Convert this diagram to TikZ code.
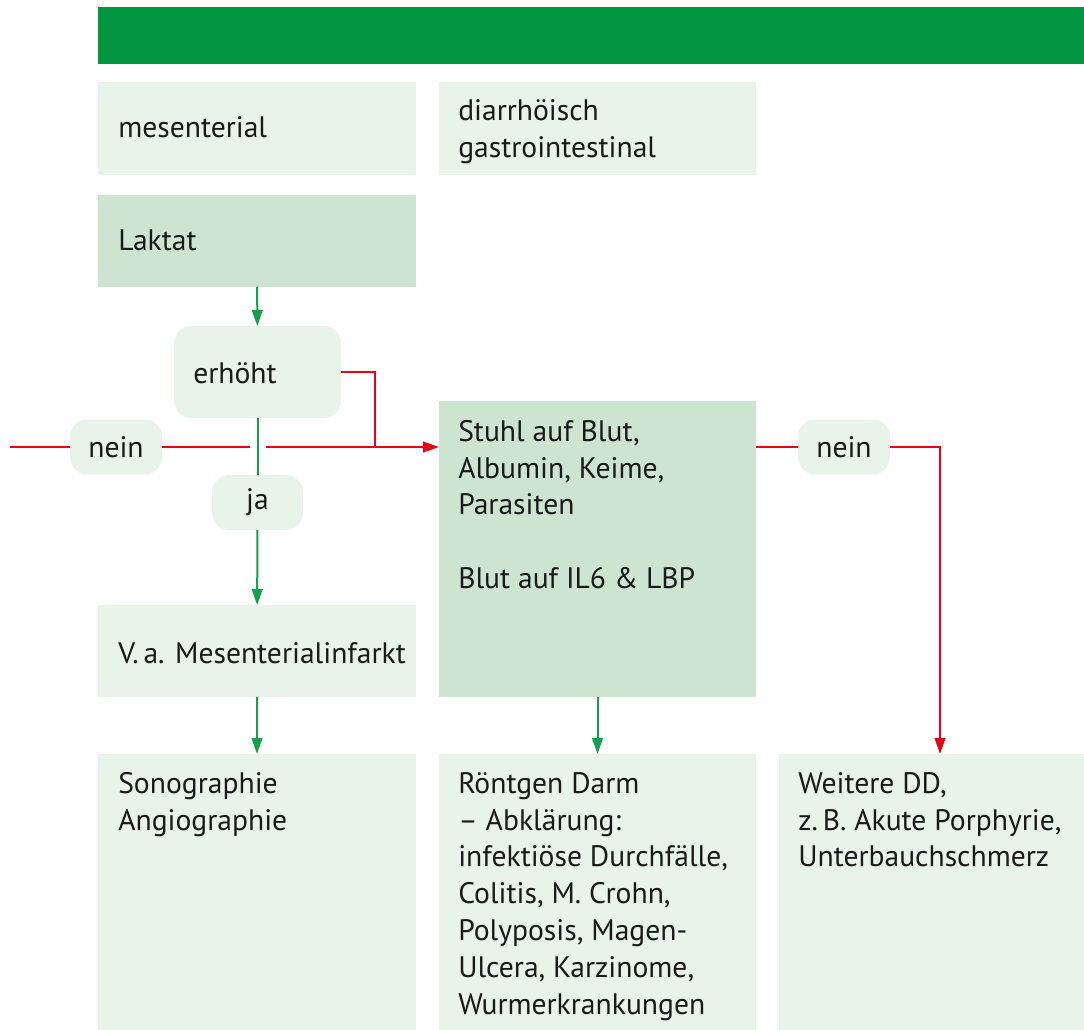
\documentclass[tikz,border=0pt]{standalone}
\usepackage{fontspec}
\setmainfont{PT Sans}
\usetikzlibrary{arrows.meta}
\definecolor{barGreen}{RGB}{0,150,64}
\definecolor{boxLight}{RGB}{232,243,233}
\definecolor{boxDark}{RGB}{205,228,208}
\definecolor{lineGreen}{RGB}{22,158,76}
\definecolor{lineRed}{RGB}{227,6,19}
\definecolor{textDark}{RGB}{25,25,25}
\begin{document}
\begin{tikzpicture}[x=0.75pt,y=-0.75pt,
  sz/.style 2 args={minimum width=#1*0.75pt,minimum height=#2*0.75pt},
  panel/.style={rectangle,inner sep=0pt,outer sep=0pt},
  lightbox/.style={panel,fill=boxLight},
  darkbox/.style={panel,fill=boxDark},
  pill/.style={panel,fill=boxLight,rounded corners=13pt,font=\fontsize{22.2}{27.6}\selectfont,text=textDark},
  txt/.style={inner sep=0pt,align=left,font=\fontsize{22.2}{27.6}\selectfont,text=textDark},
  gline/.style={draw=lineGreen,line width=1.5pt},
  rline/.style={draw=lineRed,line width=1.5pt},
  tip/.style={-{Triangle[length=12pt,width=8pt]}},
]
\path[use as bounding box,fill=white] (0,0) rectangle (1084,1030);

% panels
\node[panel,fill=barGreen,sz={986}{57}] (bar) at (591,35.5) {};
\node[lightbox,sz={318}{93}] (mes) at (257,128.5) {};
\node[lightbox,sz={317}{93}] (diar) at (597.5,128.5) {};
\node[darkbox,sz={318}{92}] (laktat) at (257,241) {};
\node[pill,sz={167}{92}] (erh) at (257.5,372) {};
\node[pill,sz={92}{55}] (neinL) at (116,447) {nein};
\node[pill,sz={91}{55}] (ja) at (257.5,502.5) {ja};
\node[darkbox,sz={317}{296}] (stuhl) at (597.5,549) {};
\node[pill,sz={92}{55}] (neinR) at (844,447) {nein};
\node[lightbox,sz={318}{92}] (va) at (257,651) {};
\node[lightbox,sz={318}{276}] (sono) at (257,892) {};
\node[lightbox,sz={317}{276}] (roent) at (597.5,892) {};
\node[lightbox,sz={305}{276}] (weit) at (931.5,892) {};

% texts
\node[txt,anchor=base west] (tmes) at (118,138) {mesenterial};
\node[txt,anchor=north west] (tdiar) at (458,99) {diarrhöisch\\gastrointestinal};
\node[txt,anchor=base west] (tlak) at (118,251) {Laktat};
\node[txt,anchor=base west] (terh) at (193,383) {erhöht};
\node[txt,anchor=north west] (tstuhl) at (458,420) {Stuhl auf Blut,\\Albumin, Keime,\\Parasiten\\[27.6pt]Blut auf IL6 \& LBP};
\node[txt,anchor=base west] (tva) at (118,663) {V.\,a. Mesenterialinfarkt};
\node[txt,anchor=north west] (tsono) at (118,772) {Sonographie\\Angiographie};
\node[txt,anchor=north west] (troent) at (458,772) {Röntgen Darm\\– Abklärung:\\infektiöse Durchfälle,\\Colitis, M. Crohn,\\Polyposis, Magen-\\Ulcera, Karzinome,\\Wurmerkrankungen};
\node[txt,anchor=north west] (tweit) at (798,772) {Weitere DD,\\z.\,B. Akute Porphyrie,\\Unterbauchschmerz};

% red connectors
\coordinate (lstart) at (10,447);
\coordinate (merge) at (375,447);
\coordinate (wtop) at (940,754);
\draw[rline] (lstart) -- (neinL.west);
\draw[rline,tip] (neinL.east) -- (neinL.east -| stuhl.west);
\draw[rline] (erh.east) -| (merge);
\draw[rline] (stuhl.east |- neinR) -- (neinR.west);
\draw[rline,tip] (neinR.east) -| (wtop);

% green connectors
\draw[gline,tip] (laktat) -- (erh);
\draw[gline,preaction={draw=white,line width=12pt}] (erh) -- (ja);
\draw[gline,tip] (ja) -- (va);
\draw[gline,tip] (va) -- (sono);
\draw[gline,tip] (stuhl) -- (roent);
\end{tikzpicture}
\end{document}
